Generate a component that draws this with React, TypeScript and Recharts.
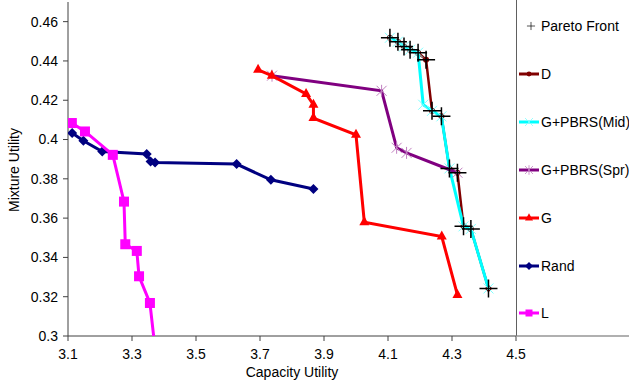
import { ScatterChart, Scatter, XAxis, YAxis, Label } from 'recharts'

type Pt = [number, number]

const X_TICKS = [3.1, 3.3, 3.5, 3.7, 3.9, 4.1, 4.3, 4.5]
const Y_TICKS = [0.3, 0.32, 0.34, 0.36, 0.38, 0.4, 0.42, 0.44, 0.46]

// [capacity utility, mixture utility]
const PARETO: Pt[] = [
  [4.106, 0.4518], [4.131, 0.4498], [4.15, 0.4473], [4.169, 0.4457], [4.194, 0.4442], [4.219, 0.4406],
  [4.2375, 0.4146], [4.267, 0.4118], [4.292, 0.3853], [4.317, 0.3831], [4.336, 0.3558], [4.359, 0.3545],
  [4.414, 0.3242],
]
const D_PTS: Pt[] = [
  [4.106, 0.4518], [4.131, 0.4498], [4.15, 0.4473], [4.169, 0.4457], [4.194, 0.4442], [4.219, 0.4406],
  [4.2375, 0.4146], [4.267, 0.4118], [4.292, 0.3853], [4.317, 0.3831], [4.336, 0.3558], [4.359, 0.3545],
  [4.414, 0.3242],
]
const MID_PTS: Pt[] = [
  [4.106, 0.4518], [4.131, 0.4498], [4.15, 0.4473], [4.169, 0.4457], [4.194, 0.4442], [4.21, 0.4177],
  [4.2375, 0.4146], [4.267, 0.4118], [4.292, 0.3853], [4.336, 0.3558], [4.359, 0.3545], [4.414, 0.3242],
]
const SPR_PTS: Pt[] = [
  [3.7375, 0.4325], [4.08, 0.4248], [4.127, 0.3958], [4.158, 0.3932], [4.317, 0.3831],
]
const G_PTS: Pt[] = [
  [3.694, 0.4355], [3.737, 0.4325], [3.844, 0.4232], [3.867, 0.4177], [3.867, 0.4109], [4.0, 0.4024],
  [4.026, 0.3579], [4.268, 0.3506], [4.317, 0.3209],
]
const RAND_PTS: Pt[] = [
  [3.113, 0.4033], [3.148, 0.3994], [3.207, 0.3939], [3.346, 0.3926], [3.358, 0.3888], [3.372, 0.3883],
  [3.627, 0.3875], [3.734, 0.3795], [3.867, 0.3748],
]
const L_PTS: Pt[] = [
  [3.112, 0.4084], [3.153, 0.4041], [3.24, 0.3922], [3.275, 0.3684], [3.279, 0.3467], [3.315, 0.3433],
  [3.322, 0.3304], [3.356, 0.3168], [3.378, 0.285],
]

const toData = (pts: Pt[]) => pts.map(([x, y]) => ({ x, y }))

const FONT = '"Liberation Sans", Arial, sans-serif'

const D_COLOR = '#800000'
const MID_COLOR = '#00ffff'
const SPR_COLOR = '#800080'
const G_COLOR = '#ff0000'
const RAND_COLOR = '#000080'
const L_COLOR = '#ff00ff'

function Marker({ kind, cx, cy }: { kind: string; cx: number; cy: number }) {
  switch (kind) {
    case 'pareto':
      return <path d={`M${cx - 9},${cy}H${cx + 9}M${cx},${cy - 9}V${cy + 9}`} stroke="#000" strokeWidth={1.5} fill="none" />
    case 'd':
      return <circle cx={cx} cy={cy} r={3} fill={D_COLOR} />
    case 'mid':
      return <path d={`M${cx - 5},${cy - 5}L${cx + 5},${cy + 5}M${cx - 5},${cy + 5}L${cx + 5},${cy - 5}`} stroke="#80ffff" strokeWidth={1} fill="none" />
    case 'spr':
      return <path d={`M${cx - 5},${cy - 5}L${cx + 5},${cy + 5}M${cx - 5},${cy + 5}L${cx + 5},${cy - 5}M${cx},${cy - 6}V${cy + 6}`} stroke="#c080c0" strokeWidth={1} fill="none" />
    case 'g':
      return <path d={`M${cx},${cy - 6}L${cx + 5},${cy + 3}L${cx - 5},${cy + 3}Z`} fill={G_COLOR} />
    case 'rand':
      return <path d={`M${cx},${cy - 5}L${cx + 5},${cy}L${cx},${cy + 5}L${cx - 5},${cy}Z`} fill={RAND_COLOR} />
    case 'l':
      return <rect x={cx - 5} y={cy - 5} width={10} height={10} fill={L_COLOR} />
    default:
      return null
  }
}

const shapeOf = (kind: string) => (p: any) => <Marker kind={kind} cx={p.cx} cy={p.cy} />

const LEGEND = [
  { kind: 'pareto', label: 'Pareto Front', color: '', y: 26 },
  { kind: 'd', label: 'D', color: D_COLOR, y: 74 },
  { kind: 'mid', label: 'G+PBRS(Mid)', color: MID_COLOR, y: 122 },
  { kind: 'spr', label: 'G+PBRS(Spr)', color: SPR_COLOR, y: 170 },
  { kind: 'g', label: 'G', color: G_COLOR, y: 218 },
  { kind: 'rand', label: 'Rand', color: RAND_COLOR, y: 266 },
  { kind: 'l', label: 'L', color: L_COLOR, y: 313 },
]

function ChartLegend() {
  return (
    <div style={{ position: 'absolute', left: 516, top: 0, width: 113, height: 337, borderLeft: '1px solid #606060', borderBottom: '2px solid #b0b0b0', boxSizing: 'border-box', overflow: 'hidden' }}>
      {LEGEND.map((item) => (
        <div key={item.label} style={{ position: 'absolute', left: 0, top: item.y - 9, height: 18, display: 'flex', alignItems: 'center', whiteSpace: 'nowrap' }}>
          <svg width={24} height={18} style={{ flexShrink: 0 }}>
            {item.color && <line x1={2} x2={22} y1={9} y2={9} stroke={item.color} strokeWidth={3} />}
            <g transform={item.kind === 'pareto' ? 'translate(14 9) scale(0.45)' : item.kind === 'l' ? 'translate(12 9) scale(0.7)' : 'translate(12 9) scale(0.8)'}>
              <Marker kind={item.kind} cx={0} cy={0} />
            </g>
          </svg>
          <span style={{ fontFamily: FONT, fontSize: 14, color: '#000' }}>{item.label}</span>
        </div>
      ))}
    </div>
  )
}

const SERIES = [
  { kind: 'd', pts: D_PTS, color: D_COLOR, width: 2.5 },
  { kind: 'mid', pts: MID_PTS, color: MID_COLOR, width: 3 },
  { kind: 'spr', pts: SPR_PTS, color: SPR_COLOR, width: 3 },
  { kind: 'g', pts: G_PTS, color: G_COLOR, width: 3 },
  { kind: 'rand', pts: RAND_PTS, color: RAND_COLOR, width: 3 },
  { kind: 'l', pts: L_PTS, color: L_COLOR, width: 3 },
]

export default function App() {
  const tickStyle = { fontFamily: FONT, fontSize: 14, fill: '#000' }
  return (
    <div style={{ position: 'absolute', left: 0, top: 0, width: 629, height: 384, background: '#fff' }}>
      <ScatterChart width={629} height={384} margin={{ top: 2, right: 113, bottom: 0, left: 0 }}>
        <XAxis
          type="number"
          dataKey="x"
          domain={[3.1, 4.5]}
          ticks={X_TICKS}
          tickFormatter={(v: number) => v.toFixed(1)}
          allowDataOverflow
          height={48}
          tickSize={5}
          tickMargin={8}
          tick={tickStyle}
          axisLine={{ stroke: '#404040' }}
          tickLine={{ stroke: '#404040' }}
        >
          <Label
            content={() => (
              <text x={292} y={377} textAnchor="middle" fontFamily={FONT} fontSize={14} fill="#000">Capacity Utility</text>
            )}
          />
        </XAxis>
        <YAxis
          type="number"
          dataKey="y"
          domain={[0.3, 0.47]}
          ticks={Y_TICKS}
          tickFormatter={(v: number) => String(+v.toFixed(2))}
          allowDataOverflow
          width={68}
          tickSize={5}
          tickMargin={5}
          tick={tickStyle}
          axisLine={{ stroke: '#404040' }}
          tickLine={{ stroke: '#404040' }}
        >
          <Label
            content={() => (
              <text x={19} y={170} transform="rotate(-90 19 170)" textAnchor="middle" fontFamily={FONT} fontSize={14} fill="#000">Mixture Utility</text>
            )}
          />
        </YAxis>
        {SERIES.map((s) => (
          <Scatter
            key={s.kind}
            data={toData(s.pts)}
            line={{ stroke: s.color, strokeWidth: s.width }}
            lineJointType="linear"
            shape={shapeOf(s.kind)}
            isAnimationActive={false}
          />
        ))}
        <Scatter data={toData(PARETO)} shape={shapeOf('pareto')} isAnimationActive={false} />
      </ScatterChart>
      <ChartLegend />
    </div>
  )
}
